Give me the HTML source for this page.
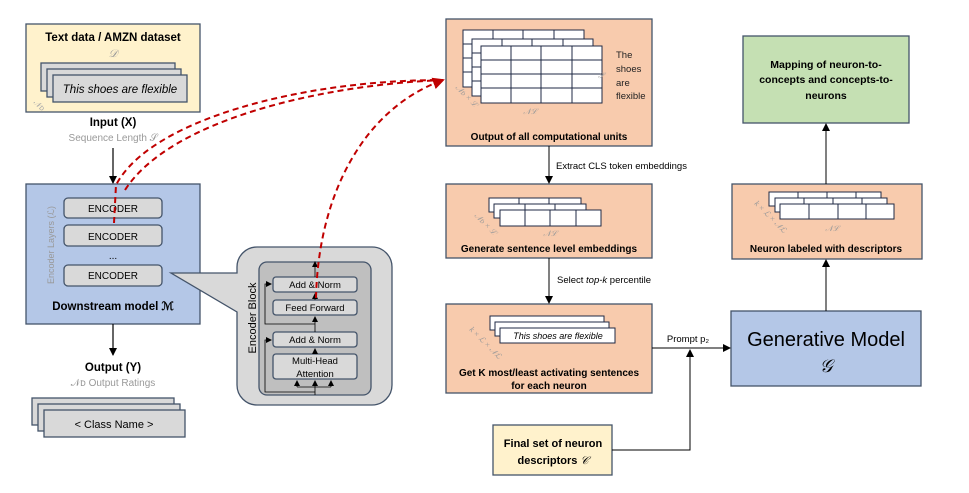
<!DOCTYPE html>
<html><head><meta charset="utf-8"><style>
body{margin:0;background:#fff}
svg{display:block;font-family:"Liberation Sans",sans-serif}
.b{font-weight:bold}
</style></head><body>
<svg width="969" height="493" viewBox="0 0 969 493" xmlns="http://www.w3.org/2000/svg">
<defs>
<marker id="ar" markerWidth="8" markerHeight="8" refX="7" refY="4" orient="auto" markerUnits="userSpaceOnUse"><path d="M0,0 L8,4 L0,8 z" fill="#000"/></marker>
<marker id="ar2" markerWidth="6" markerHeight="6" refX="5" refY="3" orient="auto" markerUnits="userSpaceOnUse"><path d="M0,0 L6,3 L0,6 z" fill="#000"/></marker>
<marker id="rr" markerWidth="12" markerHeight="12" refX="10" refY="6" orient="auto" markerUnits="userSpaceOnUse"><path d="M0,0 L12,6 L0,12 z" fill="#c00000"/></marker>
</defs>
<g stroke="#44546a" stroke-width="1.3">
<rect x="26" y="24" width="174" height="88" fill="#fff2cc"/>
<rect x="41" y="63" width="134" height="28" fill="#d9d9d9"/>
<rect x="47" y="69" width="134" height="28" fill="#d9d9d9"/>
<rect x="53" y="75" width="134" height="27" fill="#d9d9d9"/>
<rect x="26" y="184" width="174" height="140" fill="#b4c7e7"/>
<rect x="64" y="198" width="98" height="20" rx="4" fill="#d9d9d9"/>
<rect x="64" y="225" width="98" height="21" rx="4" fill="#d9d9d9"/>
<rect x="64" y="265" width="98" height="21" rx="4" fill="#d9d9d9"/>
<rect x="32" y="398" width="142" height="27" fill="#d9d9d9"/>
<rect x="38" y="404" width="142" height="27" fill="#d9d9d9"/>
<rect x="44" y="410" width="141" height="27" fill="#d9d9d9"/>
<path d="M257,247 H372 A20,20 0 0 1 392,267 V385 A20,20 0 0 1 372,405 H257 A20,20 0 0 1 237,385 V312 L171,273 L237,273 V267 A20,20 0 0 1 257,247 z" fill="#d9d9d9"/>
<rect x="259" y="262" width="112" height="133" rx="8" fill="#bfbfbf"/>
<rect x="273" y="277" width="84" height="15" rx="3" fill="#d9d9d9"/>
<rect x="273" y="300" width="84" height="15" rx="3" fill="#d9d9d9"/>
<rect x="273" y="332" width="84" height="15" rx="3" fill="#d9d9d9"/>
<rect x="273" y="354" width="84" height="25" rx="3" fill="#d9d9d9"/>
</g>
<g stroke="#000" stroke-width="0.8" fill="none">
<line x1="315" y1="395" x2="315" y2="381" marker-end="url(#ar2)"/>
<path d="M297,387 H331"/>
<line x1="297" y1="387" x2="297" y2="381" marker-end="url(#ar2)"/>
<line x1="331" y1="387" x2="331" y2="381" marker-end="url(#ar2)"/>
<line x1="315" y1="354" x2="315" y2="349" marker-end="url(#ar2)"/>
<line x1="315" y1="332" x2="315" y2="317" marker-end="url(#ar2)"/>
<line x1="315" y1="300" x2="315" y2="294" marker-end="url(#ar2)"/>
<line x1="315" y1="277" x2="315" y2="262" marker-end="url(#ar2)"/>
<path d="M315,392 H265 V340 H271" marker-end="url(#ar2)"/>
<path d="M315,324 H265 V284 H271" marker-end="url(#ar2)"/>
</g>
<text x="113" y="41" text-anchor="middle" font-size="11.5" class="b">Text data / AMZN dataset</text>
<text x="113" y="57" text-anchor="middle" font-size="11" fill="#999" font-family="Liberation Serif" font-style="italic">𝒟</text>
<text x="120" y="93" text-anchor="middle" font-size="11.5" font-style="italic">This shoes are flexible</text>
<text x="36" y="104" font-size="8" fill="#aaa" transform="rotate(45 36 100)">𝒩ᴅ</text>
<text x="113" y="126" text-anchor="middle" font-size="11.5" class="b">Input (X)</text>
<text x="113" y="141" text-anchor="middle" font-size="10" fill="#999">Sequence Length 𝒮</text>
<line x1="113" y1="148" x2="113" y2="183" stroke="#000" stroke-width="1.2" marker-end="url(#ar)"/>
<text x="113" y="212" text-anchor="middle" font-size="10">ENCODER</text>
<text x="113" y="240" text-anchor="middle" font-size="10">ENCODER</text>
<text x="113" y="259" text-anchor="middle" font-size="10">...</text>
<text x="113" y="279" text-anchor="middle" font-size="10">ENCODER</text>
<text x="0" y="0" font-size="9" fill="#999" text-anchor="middle" transform="translate(54,245) rotate(-90)">Encoder Layers (ℒ)</text>
<text x="113" y="310" text-anchor="middle" font-size="11.5" class="b">Downstream model ℳ</text>
<line x1="113" y1="324" x2="113" y2="355" stroke="#000" stroke-width="1.2" marker-end="url(#ar)"/>
<text x="113" y="371" text-anchor="middle" font-size="11.5" class="b">Output (Y)</text>
<text x="113" y="386" text-anchor="middle" font-size="10" fill="#999">𝒩ᴅ Output Ratings</text>
<text x="114" y="428" text-anchor="middle" font-size="11">&lt; Class Name &gt;</text>
<text x="315" y="288" text-anchor="middle" font-size="9.5">Add &amp; Norm</text>
<text x="315" y="311" text-anchor="middle" font-size="9.5">Feed Forward</text>
<text x="315" y="343" text-anchor="middle" font-size="9.5">Add &amp; Norm</text>
<text x="315" y="364" text-anchor="middle" font-size="9.5">Multi-Head</text>
<text x="315" y="377" text-anchor="middle" font-size="9.5">Attention</text>
<text x="0" y="0" font-size="11" text-anchor="middle" transform="translate(256,318) rotate(-90)">Encoder Block</text>
<g stroke="#c00000" stroke-width="2" fill="none" stroke-dasharray="6,4">
<path d="M114,223 L116,185 C150,120 300,80 443,80"/>
<path d="M125,190 C170,120 320,85 443,80"/>
<path d="M316,298 C318,200 360,110 443,80" marker-end="url(#rr)"/>
</g>
<g stroke="#44546a" stroke-width="1.3">
<rect x="446" y="19" width="206" height="127" fill="#f8cbad"/>
<rect x="446" y="184" width="206" height="74" fill="#f8cbad"/>
<rect x="446" y="304" width="206" height="89" fill="#f8cbad"/>
<rect x="493" y="425" width="119" height="50" fill="#fff2cc"/>
<rect x="731" y="311" width="190" height="75" fill="#b4c7e7"/>
<rect x="732" y="184" width="190" height="75" fill="#f8cbad"/>
<rect x="743" y="36" width="166" height="87" fill="#c5e0b3"/>
</g>
<g stroke="#1f2a44" stroke-width="1" fill="#fff">
<rect x="463" y="30" width="121" height="57"/>
<rect x="472" y="39" width="121" height="57"/>
<rect x="481" y="46" width="121" height="57"/>
<path d="M463,44 H472 M463,58 H472 M463,72 H472 M493,30 V39 M523,30 V39 M554,30 V39 M472,53 H481 M472,67 H481 M472,81 H481 M502,39 V46 M532,39 V46 M563,39 V46 M481,60 H602 M481,74 H602 M481,88 H602 M511,46 V103 M541,46 V103 M572,46 V103" fill="none"/>
<rect x="489" y="198" width="92" height="14"/>
<rect x="494" y="204" width="92" height="14"/>
<rect x="500" y="210" width="101" height="16"/>
<path d="M519,198 V204 M549,198 V204 M525,204 V210 M555,204 V210 M525,210 V226 M550,210 V226 M576,210 V226" fill="none"/>
<rect x="490" y="316" width="114" height="14"/>
<rect x="495" y="322" width="114" height="14"/>
<rect x="500" y="328" width="115" height="15"/>
<rect x="769" y="192" width="112" height="14"/>
<rect x="775" y="198" width="112" height="14"/>
<rect x="780" y="204" width="114" height="15"/>
<path d="M798,192 V198 M827,192 V198 M856,192 V198 M804,198 V204 M833,198 V204 M862,198 V204 M809,204 V219 M838,204 V219 M866,204 V219" fill="none"/>
</g>
<g font-size="8" fill="#999" font-family="Liberation Serif" font-style="italic">
<text x="0" y="0" transform="translate(455,88) rotate(45)">𝒩ᴅ × ℒ</text>
<text x="530" y="114" text-anchor="middle">𝒩ℒ</text>
<text x="598" y="78">𝒮</text>
<text x="0" y="0" transform="translate(474,216) rotate(45)">𝒩ᴅ × ℒ</text>
<text x="550" y="236" text-anchor="middle">𝒩ℒ</text>
<text x="0" y="0" transform="translate(469,330) rotate(45)">k × ℒ × 𝒩ℒ</text>
<text x="0" y="0" transform="translate(754,204) rotate(45)">k × ℒ × 𝒩ℒ</text>
<text x="832" y="231" text-anchor="middle">𝒩ℒ</text>
</g>
<g font-size="9.5" fill="#222">
<text x="616" y="58">The</text><text x="616" y="72">shoes</text><text x="616" y="86">are</text><text x="616" y="99">flexible</text>
</g>
<text x="549" y="140" text-anchor="middle" font-size="10" class="b">Output of all computational units</text>
<line x1="549" y1="146" x2="549" y2="183" stroke="#000" stroke-width="1" marker-end="url(#ar)"/>
<text x="556" y="169" font-size="9.5">Extract CLS token embeddings</text>
<text x="549" y="252" text-anchor="middle" font-size="10" class="b">Generate sentence level embeddings</text>
<line x1="549" y1="258" x2="549" y2="303" stroke="#000" stroke-width="1" marker-end="url(#ar)"/>
<text x="557" y="283" font-size="9.5">Select <tspan font-style="italic">top-k</tspan> percentile</text>
<text x="558" y="339" text-anchor="middle" font-size="9" font-style="italic">This shoes are flexible</text>
<text x="549" y="376" text-anchor="middle" font-size="10" class="b">Get K most/least activating sentences</text>
<text x="549" y="389" text-anchor="middle" font-size="10" class="b">for each neuron</text>
<text x="553" y="447" text-anchor="middle" font-size="11" class="b">Final set of neuron</text>
<text x="553" y="464" text-anchor="middle" font-size="11" class="b">descriptors <tspan font-weight="normal" font-style="italic" font-family="Liberation Serif">𝒞</tspan></text>
<path d="M612,450 H690 V350" stroke="#000" stroke-width="1" fill="none" marker-end="url(#ar)"/>
<line x1="652" y1="348" x2="730" y2="348" stroke="#000" stroke-width="1" marker-end="url(#ar)"/>
<text x="688" y="342" text-anchor="middle" font-size="9.5">Prompt p₂</text>
<text x="826" y="346" text-anchor="middle" font-size="20">Generative Model</text>
<text x="826" y="372" text-anchor="middle" font-size="18" font-family="Liberation Serif" font-style="italic">𝒢</text>
<line x1="826" y1="311" x2="826" y2="260" stroke="#000" stroke-width="1" marker-end="url(#ar)"/>
<text x="826" y="252" text-anchor="middle" font-size="10" class="b">Neuron labeled with descriptors</text>
<line x1="826" y1="184" x2="826" y2="124" stroke="#000" stroke-width="1" marker-end="url(#ar)"/>
<text x="826" y="68" text-anchor="middle" font-size="10.5" class="b">Mapping of neuron-to-</text>
<text x="826" y="83" text-anchor="middle" font-size="10.5" class="b">concepts and concepts-to-</text>
<text x="826" y="99" text-anchor="middle" font-size="10.5" class="b">neurons</text>
</svg>
</body></html>
